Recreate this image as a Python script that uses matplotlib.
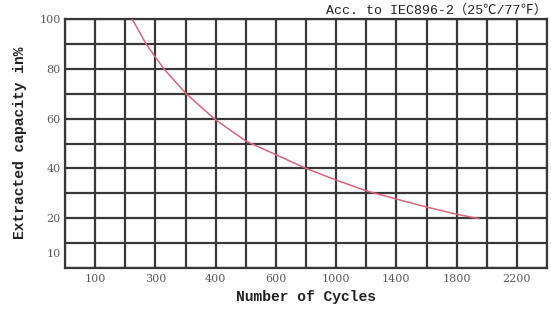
import numpy as np
import matplotlib
matplotlib.use("Agg")
import matplotlib.pyplot as plt

# Tick labels (non-uniform cycle scale) and their grid positions
x_tick_labels = [100, 300, 400, 600, 1000, 1400, 1800, 2200]
y_tick_labels = ["10", "20", "40", "60", "80", "100"]
y_tick_values = [6, 20, 40, 60, 80, 100]

# Curve (cycles, extracted capacity %)
cycles = [223, 269, 314, 351, 400, 500, 600, 800, 1000,
          1200, 1400, 1600, 1800, 1950]
capacity = [100, 90, 80, 70, 59.5, 51, 45.5, 40, 35.3,
            31, 27.7, 24.5, 21.6, 19.8]

# grid index of each labelled cycle value (every other vertical line)
label_pos = [1, 3, 5, 7, 9, 11, 13, 15]


def to_pos(c):
    return np.interp(c, x_tick_labels, label_pos)


fig = plt.figure(figsize=(5.51, 3.11), dpi=100)
ax = fig.add_axes([65 / 551, 1 - 268 / 311, (547 - 65) / 551, (268 - 19) / 311])

ax.set_xlim(0, 16)
ax.set_ylim(0, 100)

grid_c = "#383838"
for i in range(0, 17):
    ax.axvline(i, color=grid_c, lw=1.6, zorder=1)
for v in range(0, 101, 10):
    ax.axhline(v, color=grid_c, lw=1.6, zorder=1)
for s in ax.spines.values():
    s.set_color(grid_c)
    s.set_linewidth(1.6)

ax.plot(to_pos(np.array(cycles)), capacity, color="#d9657e", lw=1.1, zorder=3)

tick_font = dict(family=["DejaVu Serif"], size=8, color="#5a5a5a")
ax.set_xticks(label_pos)
ax.set_xticklabels([str(v) for v in x_tick_labels], **tick_font)
ax.set_yticks(y_tick_values)
ax.set_yticklabels(y_tick_labels, **tick_font)
ax.tick_params(length=0, pad=4)
ax.tick_params(axis="y", pad=3)

lab_font = dict(family=["Liberation Mono", "DejaVu Sans Mono"], weight="bold", size=10.5, color="#222222")
fig.text(306 / 551, 1 - 297 / 311, "Number of Cycles", ha="center", va="center", **lab_font)
fig.text(20 / 551, 1 - 143 / 311, "Extracted capacity in%", ha="center", va="center",
         rotation=90, **lab_font)

fig.text(547 / 551, 1 - 10 / 311, "Acc. to IEC896-2\uff0825\u2103/77\u2109\uff09",
         ha="right", va="center",
         family=["Liberation Mono", "Noto Sans CJK SC", "DejaVu Sans"],
         size=9.5, color="#222222")

fig.savefig("out.png", dpi=100)
